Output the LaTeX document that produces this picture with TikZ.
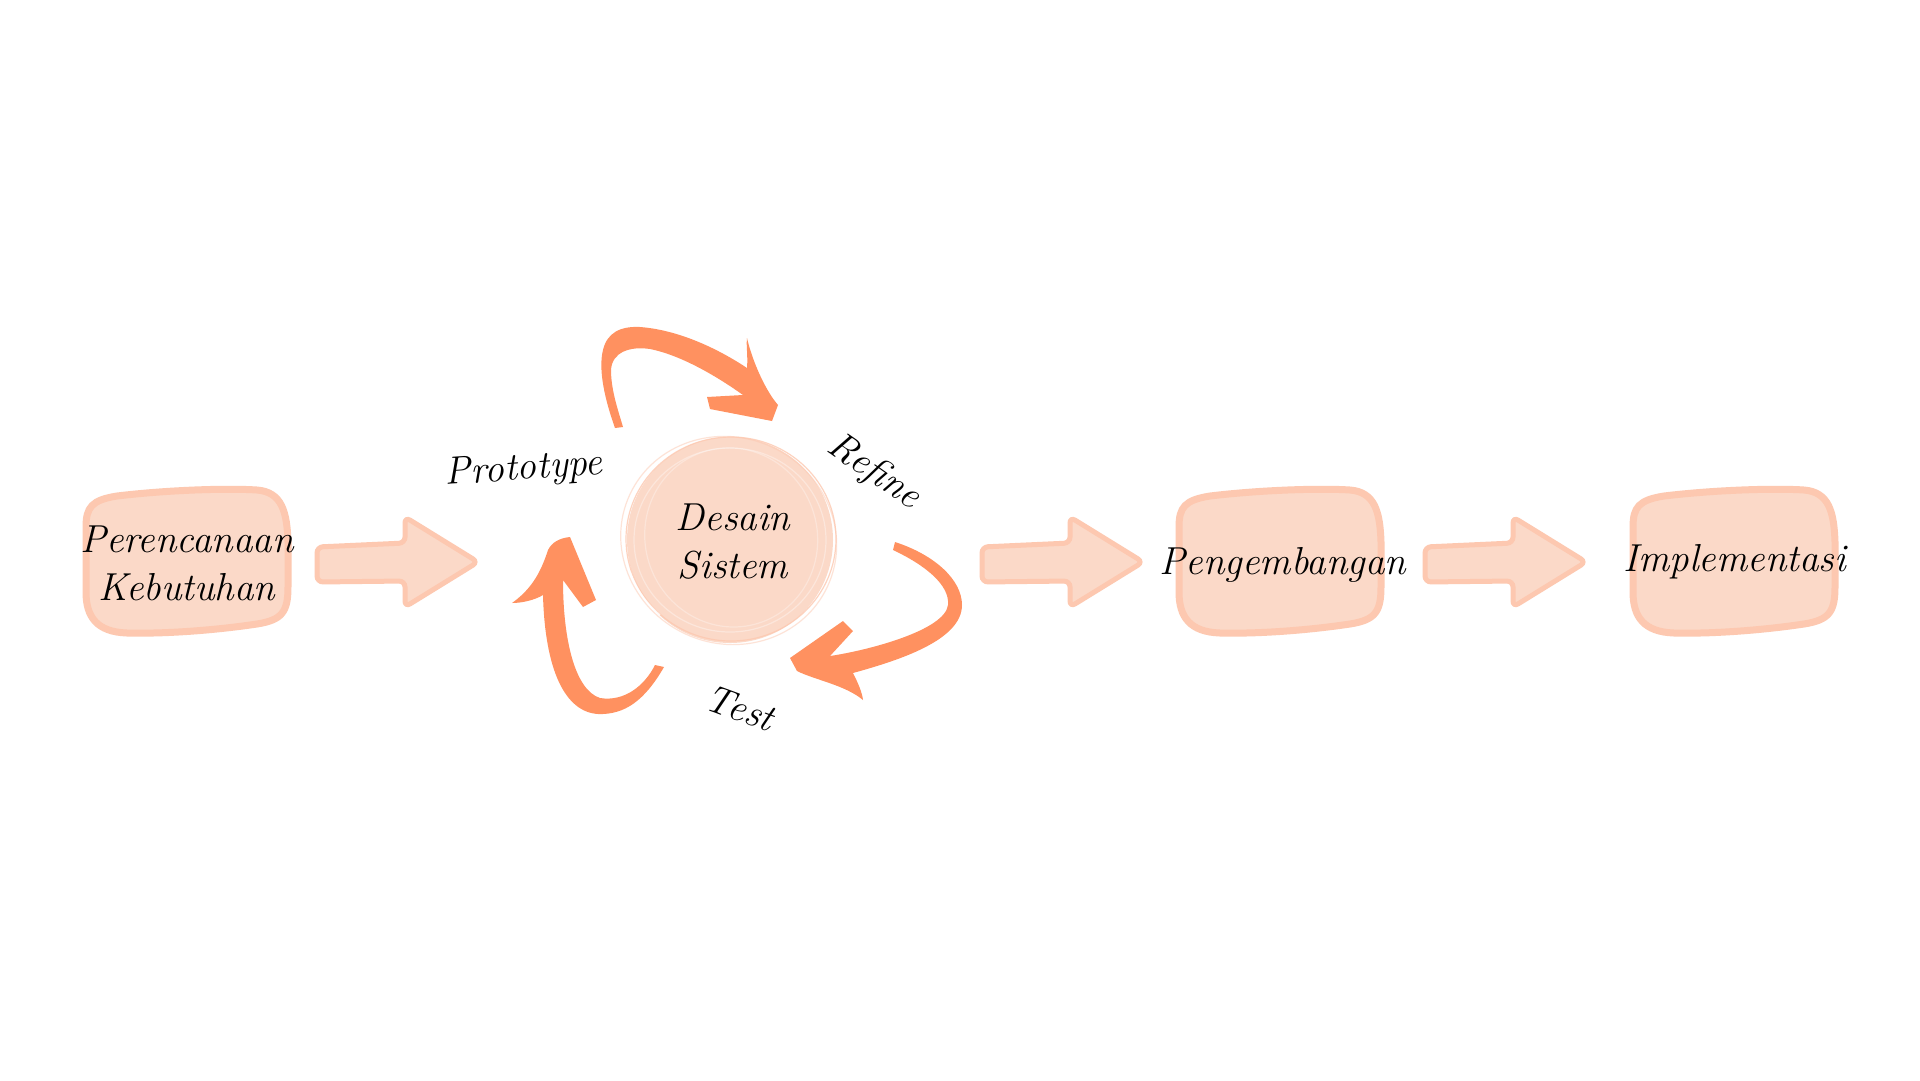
\documentclass[tikz,border=0pt]{standalone}
\definecolor{boxfill}{HTML}{FBD9C8}
\definecolor{boxline}{HTML}{FDC8B0}
\definecolor{orng}{HTML}{FF9160}
\tikzset{
  blob/.pic={\path[fill=boxfill, draw=boxline, line width=7pt]
    (-70,-66) .. controls (-20,-72) and (40,-74) .. (70,-72)
    .. controls (95,-70) and (100,-50) .. (101,-20) -- (101,25)
    .. controls (101,50) and (95,58) .. (70,62)
    .. controls (30,68) and (-20,72) .. (-60,71)
    .. controls (-90,70) and (-101,55) .. (-101,30) -- (-101,-35)
    .. controls (-101,-55) and (-95,-62) .. (-70,-66) -- cycle;},
  barrow/.pic={\path[fill=boxfill, draw=boxline, line width=5pt, rounded corners=6pt]
    (0,-15) -- (88,-19) -- (88,-45) -- (161,0) -- (88,45) -- (88,19) -- (0,20) -- cycle;},
  lbl/.style={font=\itshape\fontsize{39}{48}\selectfont, text=black, inner sep=0pt},
  curl/.style={fill=orng, draw=none}
}
\begin{document}
\begin{tikzpicture}[x=1pt, y=-1pt]
\useasboundingbox (0,0) rectangle (1920,1080);
\fill[white] (0,0) rectangle (1920,1080);
% boxes
\pic at (187,562) {blob};
\pic at (1280,562) {blob};
\pic at (1734,562) {blob};
% block arrows
\pic at (317,562) {barrow};
\pic at (982,562) {barrow};
\pic at (1425,562) {barrow};
% central circle
\node[circle, fill=boxfill, minimum size=206pt, inner sep=0pt] (dsc) at (730,540) {};
\begin{scope}[line width=1.2pt]
\draw[white, opacity=0.35] (730,540) ellipse (96 and 92);
\draw[white, opacity=0.3, rotate around={20:(730,540)}] (732,538) ellipse (86 and 90);
\draw[boxline, opacity=0.8] (731,539) ellipse (105 and 102);
\draw[boxline, opacity=0.5, rotate around={-25:(730,540)}] (729,541) ellipse (109 and 103);
\draw[white, line width=2pt] (640,470) arc (215:250:110);
\draw[white, line width=2pt] (820,610) arc (35:70:110);
\draw[white, line width=1.5pt, opacity=0.8] (660,615) arc (130:160:100);
\end{scope}
% text nodes
\node[lbl, align=center] (p1) at (187,563) {Perencanaan\\Kebutuhan};
\node[lbl, align=center] (ds) at (733,542) {Desain\\Sistem};
\node[lbl] (p3) at (1283,565) {Pengembangan};
\node[lbl] (p4) at (1735,562) {Implementasi};
\node[lbl, rotate=4] (pr) at (524,470) {Prototype};
\node[lbl, rotate=-35] (rf) at (874,472) {Refine};
\node[lbl, rotate=-20] (ts) at (740,708) {Test};
% curved arrow: top (Prototype -> Refine)
\path[curl] (615,428) .. controls (605,400) and (598,370) .. (603,350)
  .. controls (607,333) and (620,326) .. (640,327)
  .. controls (680,330) and (720,350) .. (747,368)
  .. controls (748,355) and (746,345) .. (747,338)
  .. controls (752,360) and (765,390) .. (778,405)
  -- (772,421) -- (710,409) -- (707,397) -- (743,395)
  .. controls (715,375) and (680,355) .. (650,349)
  .. controls (630,346) and (612,352) .. (611,370)
  .. controls (611,390) and (618,410) .. (623,427) -- cycle;
% curved arrow: right (Refine -> Test)
\path[curl] (895,542) .. controls (935,555) and (962,580) .. (962,605)
  .. controls (962,640) and (900,660) .. (853,673)
  .. controls (858,683) and (862,692) .. (863,700)
  .. controls (845,685) and (815,680) .. (797,671)
  -- (790,658) -- (843,621) -- (853,631) -- (830,656)
  .. controls (870,650) and (945,630) .. (948,605)
  .. controls (950,585) and (925,565) .. (893,550) -- cycle;
% curved arrow: left (Test -> Prototype)
\path[curl] (570,537) -- (596,600) -- (583,607) -- (563,580)
  .. controls (563,640) and (575,690) .. (600,698)
  .. controls (625,702) and (645,685) .. (655,665)
  -- (664,667) .. controls (645,700) and (625,715) .. (598,714)
  .. controls (565,712) and (545,670) .. (543,595)
  .. controls (535,600) and (522,603) .. (512,603)
  .. controls (530,590) and (540,575) .. (548,550)
  .. controls (552,542) and (560,538) .. (570,537) -- cycle;
\end{tikzpicture}
\end{document}
